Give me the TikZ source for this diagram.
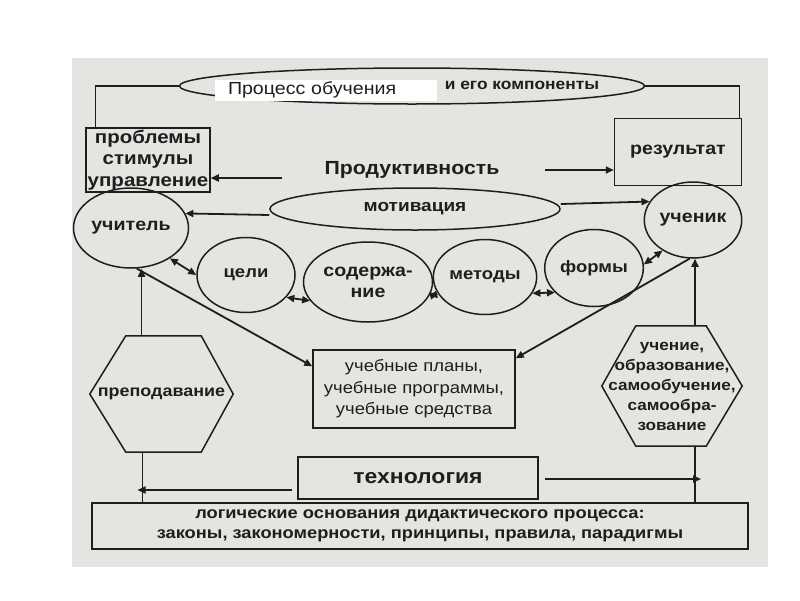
\documentclass[tikz,border=0pt]{standalone}
\usepackage{fontspec}
\setmainfont{Liberation Sans}[FakeStretch=1.12]
\usetikzlibrary{arrows.meta}
\usetikzlibrary{shapes.geometric}
\usetikzlibrary{calc}
\definecolor{scan}{RGB}{228,228,225}
\definecolor{ink}{RGB}{30,30,30}
\newcommand{\fs}[2]{\fontsize{#1}{#2}\selectfont}

\begin{document}
\begin{tikzpicture}[x=1pt, y=-1pt,
	>={Triangle[length=8pt, width=7pt]},
	every node/.style={align=center, inner sep=1pt, text=ink},
	shp/.style={draw=ink, line width=1.5pt},
	arr/.style={draw=ink, line width=1.8pt, ->},
	darr/.style={draw=ink, line width=1.8pt, <->}]
	\useasboundingbox (0,0) rectangle (800,600);
	\fill[scan] (72,58) rectangle (768,567);

	\begin{scope}[every node/.append style={shp, font=\bfseries\fs{16.5}{21}}]
		\node[ellipse, minimum width=465, minimum height=36] (proc) at (412,86) {};
		\node[minimum width=124, minimum height=64, font=\bfseries\fs{18.3}{21.5}] (probl) at (148,160) {проблемы\\стимулы\\управление};
		\node[minimum width=127, minimum height=67, font=\bfseries\fs{17.5}{21}] (result) at (678,152) {результат};
		\node[ellipse, minimum width=290, minimum height=42, font=\bfseries\fs{17}{21}] (motiv) at (415,209) {мотивация};
		\node[ellipse, minimum width=92, minimum height=80, font=\bfseries\fs{17.5}{21}] (teacher) at (131,228) {учитель};
		\node[ellipse, minimum width=88, minimum height=76, font=\bfseries\fs{17.5}{21}] (student) at (693,220) {ученик};
		\node[ellipse, minimum width=98, minimum height=75] (goals) at (246,275) {цели};
		\node[ellipse, minimum width=100, minimum height=80, font=\bfseries\fs{17.5}{21}] (content) at (368,282) {содержа-\\ние};
		\node[ellipse, minimum width=95, minimum height=75] (methods) at (485,277) {методы};
		\node[ellipse, minimum width=98, minimum height=77] (forms) at (594,268) {формы};
		\node[minimum width=202, minimum height=78, font=\fs{16.5}{21.5}] (plans) at (414,389) {учебные планы,\\учебные программы,\\учебные средства};
		\node[minimum width=240, minimum height=42, font=\bfseries\fs{20.5}{24}] (tech) at (418,478) {технология};
		\node[minimum width=656, minimum height=46, font=\bfseries\fs{16.3}{20.5}] (base) at (420,526) {логические основания дидактического процесса:\\законы, закономерности, принципы, правила, парадигмы};
	\end{scope}

	\node[fill=white, text width=196, inner xsep=13, inner ysep=0, minimum height=21, align=left, font=\fs{17.5}{21}] (title) at (326,90) {Процесс обучения};
	\node[font=\bfseries\fs{15.5}{19}] (comp) at (522,85) {и его компоненты};
	\node[font=\bfseries\fs{19}{22}] (prod) at (412,170) {Продуктивность};

	% hexagons
	\node[minimum width=143, minimum height=116, font=\bfseries\fs{16}{20}] (teach) at (161.5,394) {преподавание};
	\node[minimum width=140, minimum height=120, font=\bfseries\fs{15.3}{20}] (learn) at (672,386) {учение,\\образование,\\самообучение,\\самообра-\\зование};
	\draw[shp] (teach.west) -- ([xshift=36pt]teach.north west) -- ([xshift=-32pt]teach.north east) -- (teach.east)
		-- ([xshift=-32pt]teach.south east) -- ([xshift=36pt]teach.south west) -- cycle;
	\draw[shp] (learn.west) -- ([xshift=34pt]learn.north west) -- ([xshift=-36pt]learn.north east) -- (learn.east)
		-- ([xshift=-36pt]learn.south east) -- ([xshift=34pt]learn.south west) -- cycle;

	% frame lines
	\draw[shp] (proc.west) -| ([xshift=10pt]probl.north west);
	\draw[shp] (proc.east) -| ([xshift=-3pt]result.north east);

	\coordinate (pl) at (282,178);
	\coordinate (pr) at (545,170);
	\draw[arr] (pl) -- (pl -| probl.east);
	\draw[arr] (pr) -- (pr -| result.west);

	\draw[arr] ([yshift=-6pt]motiv.west) -- (teacher.15);
	\draw[arr] ([yshift=5pt]motiv.east) -- (student.157);

	% circles row
	\draw[darr] (teacher.-38) -- (goals.west);
	\draw[darr] (goals.-29) -- (content.198);
	\draw[darr] (content.-13) -- (methods.200);
	\draw[darr] (methods.-19) -- (forms.212);
	\draw[darr] (forms.4) -- (student.225);

	\draw[arr] (teacher.-82) -- ([yshift=-17pt]plans.north west);
	\draw[arr] (student.-95) -- ([yshift=-9pt]plans.north east);

	% verticals
	\coordinate (tt) at ([xshift=-20pt]teach.north);
	\coordinate (tb) at ([xshift=-19pt]teach.south);
	\coordinate (lt) at ([xshift=23pt]learn.north);
	\coordinate (lb) at ([xshift=23pt]learn.south);
	\draw[arr] (tt) -- (tt |- teacher.south);
	\draw[arr] (lt) -- (lt |- student.south);
	\draw[shp] (tb) -- (tb |- base.north west);
	\draw[shp] (lb) -- (lb |- base.north east);

	\draw[arr] ([xshift=-5pt, yshift=-12pt]tech.west) -- ([xshift=-5pt, yshift=-12pt]tech.west -| tb);
	\draw[arr] ([xshift=6pt, yshift=-1pt]tech.east) -- ([xshift=6pt, yshift=-1pt]tech.east -| lb);
\end{tikzpicture}
\end{document}
